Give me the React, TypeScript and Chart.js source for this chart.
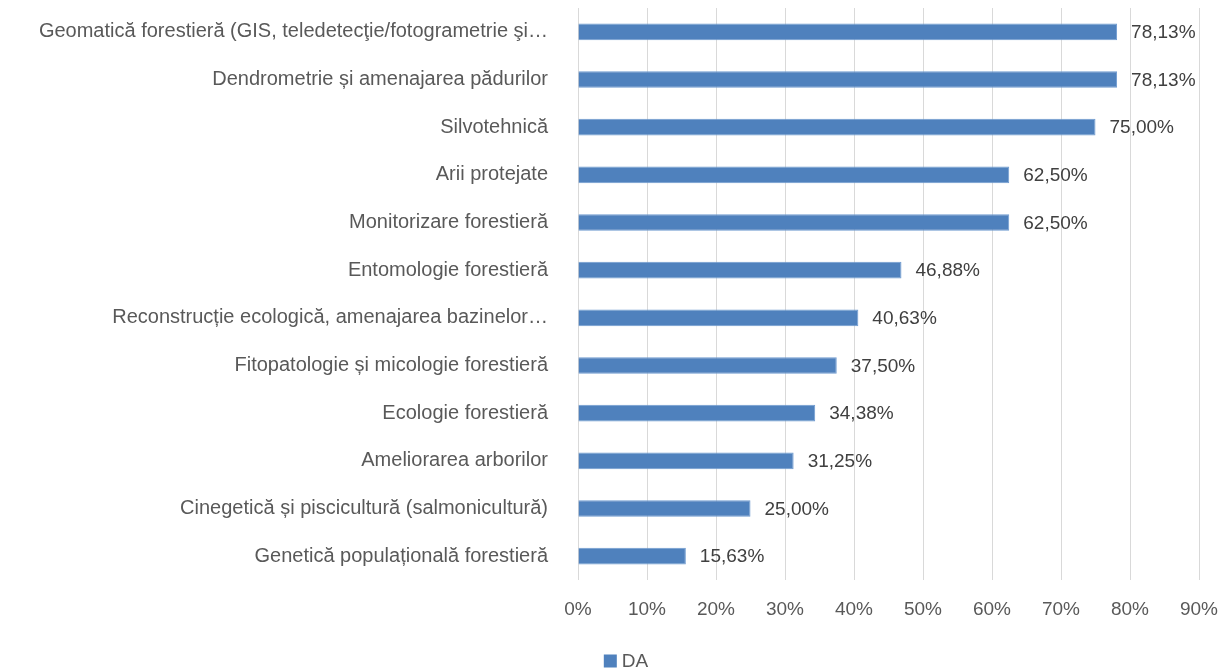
import React, { useEffect, useRef } from "react";
import { Chart, registerables } from "chart.js";

Chart.register(...registerables);

const categories = [
  "Geomatică forestieră (GIS, teledetecţie/fotogrametrie şi…",
  "Dendrometrie și amenajarea pădurilor",
  "Silvotehnică",
  "Arii protejate",
  "Monitorizare forestieră",
  "Entomologie forestieră",
  "Reconstrucție ecologică, amenajarea bazinelor…",
  "Fitopatologie și micologie forestieră",
  "Ecologie forestieră",
  "Ameliorarea arborilor",
  "Cinegetică și piscicultură (salmonicultură)",
  "Genetică populațională forestieră",
];
const valuesDA = [78.13, 78.13, 75.0, 62.5, 62.5, 46.88, 40.63, 37.5, 34.38, 31.25, 25.0, 15.63];
const seriesName = "DA";
const xTicks = [0, 10, 20, 30, 40, 50, 60, 70, 80, 90];

const FONT = "'Liberation Sans', Arial, sans-serif";
const BAR_COLOR = "#4F81BD";

const dataLabelPlugin = {
  id: "dataLabels",
  afterDatasetsDraw(chart: any) {
    const ctx = chart.ctx;
    const meta = chart.getDatasetMeta(0);
    ctx.save();
    ctx.font = `19px ${FONT}`;
    ctx.fillStyle = "#404040";
    ctx.textAlign = "left";
    ctx.textBaseline = "middle";
    meta.data.forEach((el: any, i: number) => {
      const v = valuesDA[i];
      const txt = v.toFixed(2).replace(".", ",") + "%";
      ctx.fillText(txt, el.x + 14, el.y + 1);
    });
    ctx.restore();
  },
};

const legendPlugin = {
  id: "customLegend",
  afterDraw(chart: any) {
    const ctx = chart.ctx;
    const ds = chart.data.datasets[0];
    ctx.save();
    ctx.font = `19px ${FONT}`;
    const tw = ctx.measureText(ds.label).width;
    const box = 13;
    const gap = 5;
    const total = box + gap + tw;
    const cx = 626;
    const cy = 661;
    const x0 = cx - total / 2;
    ctx.fillStyle = BAR_COLOR;
    ctx.fillRect(x0, cy - box / 2, box, box);
    ctx.fillStyle = "#595959";
    ctx.textAlign = "left";
    ctx.textBaseline = "middle";
    ctx.fillText(ds.label, x0 + box + gap, cy + 1);
    ctx.restore();
  },
};

function zeroPad(scale: any) {
  scale.paddingTop = 0;
  scale.paddingBottom = 0;
  scale.paddingLeft = 0;
  scale.paddingRight = 0;
}

export default function App() {
  const ref = useRef<HTMLCanvasElement>(null);
  useEffect(() => {
    if (!ref.current) return;
    const chart = new Chart(ref.current, {
      type: "bar",
      data: {
        labels: categories,
        datasets: [
          {
            label: seriesName,
            data: valuesDA,
            backgroundColor: BAR_COLOR,
            borderColor: "#6f9bd0",
            borderWidth: 1,
            categoryPercentage: 1,
            barPercentage: 0.35,
          },
        ],
      },
      options: {
        indexAxis: "y",
        animation: false,
        responsive: false,
        layout: { autoPadding: false, padding: { top: 8, right: 24, bottom: 42, left: 0 } },
        scales: {
          x: {
            min: 0,
            max: 90,
            afterBuildTicks(scale: any) {
              scale.ticks = xTicks.map((v) => ({ value: v }));
            },
            afterFit(scale: any) {
              scale.height = 50;
              zeroPad(scale);
            },
            ticks: {
              callback: (v: any) => v + "%",
              color: "#595959",
              font: { size: 19, family: FONT },
              padding: 18,
              maxRotation: 0,
            },
            grid: { color: "#d9d9d9", lineWidth: 1, drawTicks: false },
            border: { display: false },
          },
          y: {
            afterFit(scale: any) {
              scale.width = 578;
              zeroPad(scale);
            },
            ticks: {
              color: "#595959",
              font: { size: 20, family: FONT },
              padding: 22,
              autoSkip: false,
            },
            grid: { display: false },
            border: { display: false },
          },
        },
        plugins: {
          legend: { display: false },
          tooltip: { enabled: false },
        },
      },
      plugins: [dataLabelPlugin, legendPlugin],
    });
    return () => chart.destroy();
  }, []);
  return (
    <div style={{ position: "fixed", left: 0, top: 0, width: 1223, height: 672, background: "#fff" }}>
      <canvas ref={ref} width={1223} height={672} />
    </div>
  );
}
